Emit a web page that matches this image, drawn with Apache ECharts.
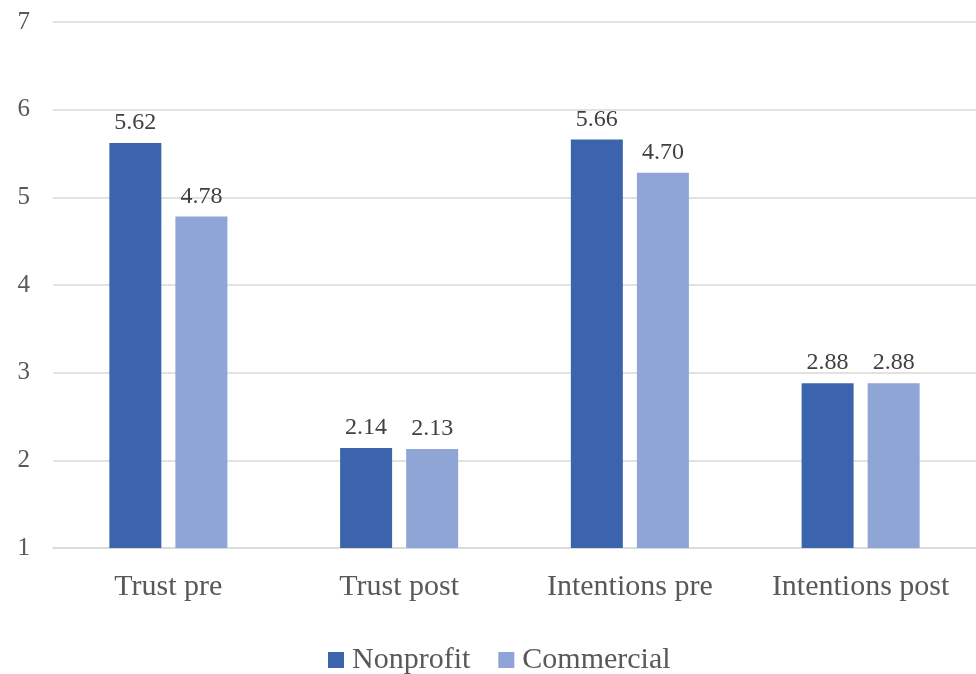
<!DOCTYPE html>
<html><head><meta charset="utf-8">
<script src="https://cdn.jsdelivr.net/npm/echarts@6/dist/echarts.min.js"></script>
<style>html,body{margin:0;padding:0;background:#fff}#c{width:976px;height:674px}</style>
</head><body><div id="c"></div>
<script>
const categories = ['Trust pre', 'Trust post', 'Intentions pre', 'Intentions post'];
const nonprofit = [5.62, 2.14, 5.66, 2.88];
const commercial = [4.78, 2.13, 5.28, 2.88];
const nonprofitLabels = ['5.62', '2.14', '5.66', '2.88'];
const commercialLabels = ['4.78', '2.13', '4.70', '2.88'];
const yTicks = [1, 2, 3, 4, 5, 6, 7];

const font = 'Liberation Serif';
const chart = echarts.init(document.getElementById('c'));
function mk(name, vals, labels, color) {
  return {
    name, type: 'bar', data: vals, barWidth: 52, barGap: '27%',
    itemStyle: { color },
    label: { show: true, position: 'top', distance: 8, color: '#404040', fontFamily: font, fontSize: 24,
      formatter: p => labels[p.dataIndex] }
  };
}
chart.setOption({
  animation: false,
  textStyle: { fontFamily: font },
  grid: { left: 53, right: 0, top: 22, bottom: 126 },
  legend: { left: 323, bottom: -6, itemWidth: 16, itemHeight: 16, itemGap: 28, icon: 'rect',
    textStyle: { fontFamily: font, fontSize: 30, color: '#595959', padding: [0, 0, 0, 3] },
    data: ['Nonprofit', 'Commercial'] },
  xAxis: { type: 'category', data: categories,
    axisLine: { lineStyle: { color: '#d9d9d9', width: 1.5 } }, axisTick: { show: false },
    axisLabel: { fontFamily: font, fontSize: 30, color: '#595959', margin: 24 } },
  yAxis: { type: 'value', min: yTicks[0], max: yTicks[yTicks.length - 1], interval: 1,
    axisLine: { show: false }, axisTick: { show: false },
    splitLine: { lineStyle: { color: '#d9d9d9', width: 1.5 } },
    axisLabel: { fontFamily: font, fontSize: 25, color: '#595959', margin: 23 } },
  series: [
    mk('Nonprofit', nonprofit, nonprofitLabels, '#3c64ac'),
    mk('Commercial', commercial, commercialLabels, '#8fa5d5')
  ]
});
</script></body></html>
